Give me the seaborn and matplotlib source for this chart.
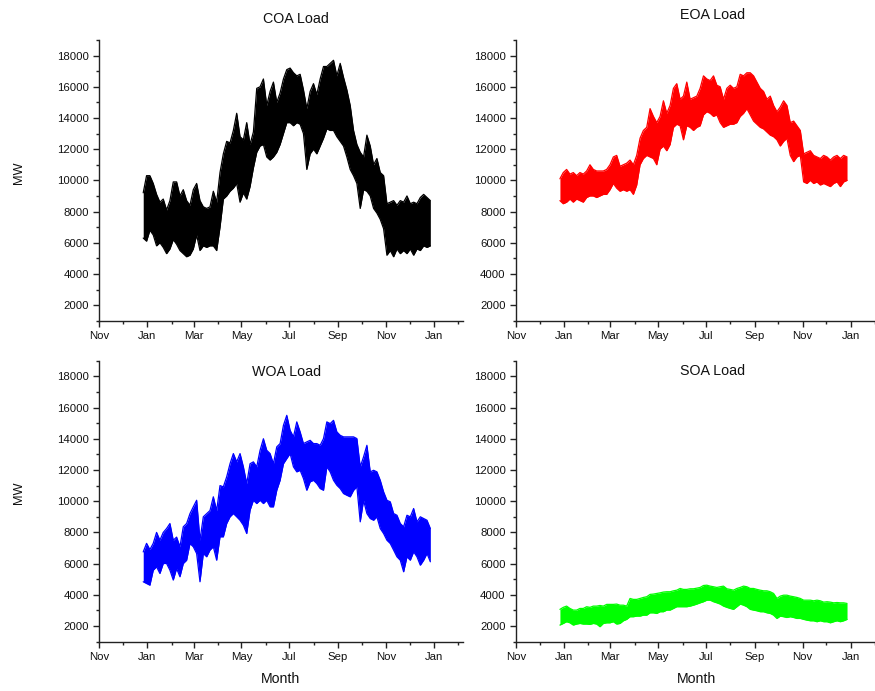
import matplotlib
matplotlib.use("Agg")
import matplotlib.pyplot as plt
import matplotlib.dates as mdates
from matplotlib.ticker import MultipleLocator
import pandas as pd
import seaborn as sns

# Sampling instants of the daily load envelope (about every 4.25 days)
sample_times = pd.date_range("2018-12-26 22:00", periods=87, freq="102h")

# Daily peak / trough of the hourly load, MW
coa_high = [9200, 10300, 10300, 9800, 9100, 8600, 8800, 8100, 8700, 9900,
            9900, 9000, 9400, 8700, 8400, 9400, 9800, 8700, 8300, 8200,
            8300, 9300, 8600, 10500, 11700, 12500, 12400, 13200, 14300, 12800,
            12600, 13700, 12300, 13100, 15900, 16000, 16500, 14800, 15700, 16300,
            15000, 15600, 16500, 17100, 17200, 16900, 16700, 16800, 15800, 14600,
            15700, 16200, 15500, 16500, 17300, 17300, 17500, 17700, 16700, 17500,
            16600, 15800, 14800, 13200, 12300, 11800, 11500, 12900, 12200, 11000,
            11400, 10500, 10300, 8500, 8600, 8700, 8400, 8700, 8600, 9000,
            8500, 8600, 8500, 8900, 9100, 8900, 8700]
coa_low = [6300, 6100, 6800, 6500, 5800, 6000, 5700, 5300, 5600, 6200,
           5900, 5500, 5300, 5100, 5200, 5600, 6500, 5500, 5800, 5700,
           5800, 5800, 5500, 7000, 8800, 9000, 9300, 9500, 9800, 8600,
           9200, 8800, 9600, 10800, 11800, 12200, 12300, 11500, 11300, 11500,
           11800, 12300, 13000, 13700, 13700, 13500, 13700, 13600, 13000, 10700,
           11700, 12000, 11700, 12200, 12700, 13300, 13200, 13200, 12800, 12500,
           12200, 11500, 10700, 10300, 9800, 8200, 9400, 9300, 9000, 8200,
           7900, 7500, 6900, 5200, 5500, 5100, 5600, 5300, 5500, 5300,
           5600, 5200, 5600, 5500, 5800, 5700, 5800]

eoa_high = [10100, 10500, 10700, 10400, 10500, 10300, 10500, 10400, 10600, 11000,
            10700, 10600, 10600, 10600, 10700, 11000, 11500, 11600, 10900, 11000,
            11100, 11300, 11000, 11600, 12700, 13200, 13400, 14600, 14100, 13700,
            14100, 15100, 14300, 14800, 15900, 16200, 15200, 15400, 16300, 15200,
            15300, 15400, 15900, 16700,
            16500, 16400, 16700, 16100, 16000, 15200, 15900, 16100, 15900, 16000,
            16800, 16700, 16900, 16900, 16700, 16300, 15900, 15700, 15200, 15400,
            14800, 14400, 14700, 15100, 14800, 13700, 13800, 13500, 13200, 11700,
            11800, 11900, 11600, 11500, 11400, 11600, 11500, 11300, 11500, 11600,
            11400, 11600, 11500]
eoa_low = [8700, 8500, 8600, 8800, 8600, 8800, 8700, 8600, 8900, 9000,
           9000, 8900, 9000, 9100, 9100, 9400, 9800, 9500, 9300, 9400,
           9300, 9400, 9100, 9700, 11000, 11400, 11600, 11500, 11400, 11000,
           12000, 12200, 11900, 12300, 13400, 13600, 13500, 12600, 13500, 13400,
           13200, 13400, 13500, 14200,
           14400, 14300, 14100, 14200, 13700, 13400, 13500, 13600, 13600, 13700,
           14100, 14300, 14600, 14200, 13800, 13600, 13400, 13300, 13100, 12900,
           12800, 12600, 12200, 12500, 12700, 11600, 11200, 11500, 11600, 9900,
           9800, 10000, 9800, 9900, 9700, 9800, 9700, 9600, 9800, 9900,
           9600, 9900, 10000]

woa_high = [6750, 7300, 6900, 7300, 8000, 7500, 8000, 8250, 8570, 7500,
            7700, 7080, 8360, 8570, 9200, 9640, 10060, 7500, 9000, 9200,
            9400, 10280, 9400, 11000, 10920, 11560, 12400, 13050, 12520, 13050,
            12200, 11130, 12400, 12520, 12200, 13260, 14000, 13260, 13050, 12400,
            13480, 13690, 14860, 15500,
            14540, 14120, 15080, 14440, 13690, 13800, 13900, 13690, 13690, 13580,
            14010, 15080, 14970, 15180, 14440, 14220, 14120, 14120, 14120, 14120,
            14010, 12200, 12840, 13580, 11880, 11980, 11880, 11340, 10600, 10060,
            9960, 9210, 9100, 8570, 8360, 9100, 9000, 9530, 8680, 9000,
            8890, 8780, 8250]
woa_low = [4840, 4730, 4620, 5580, 5800, 5370, 6010, 6010, 5580, 4950,
           5690, 5160, 6010, 6220, 7290, 7080, 6650, 4840, 6650, 6440,
           6870, 7080, 6220, 7720, 7720, 8570, 9000, 9210, 9000, 8780,
           8460, 7930, 9420, 10060, 9850, 10060, 9850, 10060, 9640, 9640,
           10700, 11340, 12400, 12730,
           13050, 12200, 11880, 11980, 11450, 10700, 11240, 11340, 11130, 10810,
           10700, 12200, 11880, 11340, 11020, 10810, 10490, 10380, 10280, 10700,
           10920, 8680, 10060, 9210, 8890, 8780, 9000, 8250, 7930, 7500,
           7290, 6870, 6440, 6220, 5480, 6440, 6220, 6760, 6440, 5900,
           6220, 6650, 6120]

soa_high = [3070, 3200, 3280, 3130, 3024, 3024, 3130, 3130, 3240, 3200,
            3280, 3280, 3320, 3280, 3390, 3390, 3390, 3410, 3340, 3340,
            3280, 3770, 3710, 3710, 3770, 3835, 3880, 4030, 4050, 4090,
            4130, 4180, 4200, 4200, 4260, 4300, 4410, 4350, 4350, 4390,
            4390, 4430, 4475, 4600, 4620, 4560, 4520, 4475, 4520, 4560,
            4390, 4350, 4300, 4410, 4475, 4560, 4520, 4410, 4410, 4350,
            4300, 4260, 4260, 4200, 4090, 3770, 3920, 3980, 3980, 3920,
            3880, 3835, 3770, 3660, 3660, 3660, 3620, 3660, 3620, 3535,
            3560, 3535, 3490, 3510, 3490, 3490, 3450]
soa_low = [2065, 2170, 2280, 2210, 2065, 2130, 2170, 2130, 2130, 2110,
           2170, 2130, 1960, 2170, 2210, 2210, 2280, 2130, 2170, 2340,
           2430, 2600, 2600, 2640, 2640, 2700, 2700, 2850, 2850, 2810,
           2920, 2920, 3024, 3024, 3130, 3240, 3240, 3240, 3240, 3280,
           3340, 3410, 3490, 3560, 3660, 3660, 3560, 3490, 3410, 3280,
           3200, 3130, 3070, 3240, 3410, 3340, 3240, 3070, 3024, 2980,
           2920, 2920, 2850, 2810, 2700, 2490, 2640, 2600, 2550, 2600,
           2550, 2490, 2490, 2430, 2380, 2340, 2340, 2280, 2340, 2280,
           2280, 2210, 2280, 2340, 2280, 2340, 2430]

regions = ["COA", "EOA", "WOA", "SOA"]
region_colors = ["#000000", "#ff0000", "#0000ff", "#00ff00"]
region_high = [coa_high, eoa_high, woa_high, soa_high]
region_low = [coa_low, eoa_low, woa_low, soa_low]
y_ticks = [2000, 4000, 6000, 8000, 10000, 12000, 14000, 16000, 18000]

sns.set_style("ticks")
plt.rcParams["font.family"] = ["Liberation Sans", "DejaVu Sans"]

W, H = 875, 691
fig = plt.figure(figsize=(W / 100, H / 100), dpi=100)


def add_axes_px(left, top, right, bottom):
    return fig.add_axes([left / W, 1 - bottom / H, (right - left) / W, (bottom - top) / H])


boxes = [(99.3, 40, 463, 320.7), (516, 40, 879.7, 320.7),
         (99.3, 360.7, 463, 641.7), (516, 360.7, 879.7, 641.7)]
title_pos = [(296, 19), (713, 15), (287, 372.5), (712.5, 371)]

ink = "#222222"
for k, name in enumerate(regions):
    ax = add_axes_px(*boxes[k])
    color = region_colors[k]
    df = pd.DataFrame({"time": list(sample_times) * 2,
                       "load": region_high[k] + region_low[k],
                       "edge": ["high"] * len(sample_times) + ["low"] * len(sample_times)})
    ax.fill_between(sample_times, region_low[k], region_high[k], color=color, lw=0)
    sns.lineplot(data=df, x="time", y="load", units="edge", estimator=None,
                 color=color, lw=0.9, ax=ax, legend=False)

    ax.set_xlim(pd.Timestamp("2018-11-01"), pd.Timestamp("2020-02-07"))
    ax.set_ylim(1000, 19000)
    ax.set_yticks(y_ticks)
    ax.yaxis.set_minor_locator(MultipleLocator(1000))
    ax.xaxis.set_major_locator(mdates.MonthLocator(bymonth=[1, 3, 5, 7, 9, 11]))
    ax.xaxis.set_minor_locator(mdates.MonthLocator())
    ax.xaxis.set_major_formatter(mdates.DateFormatter("%b"))
    ax.set_xlabel("")
    ax.set_ylabel("")

    for side in ("top", "right"):
        ax.spines[side].set_visible(False)
    for side in ("left", "bottom"):
        ax.spines[side].set_color(ink)
        ax.spines[side].set_linewidth(1.0)
    ax.tick_params(which="major", direction="out", length=4.5, width=1.0,
                   color=ink, labelsize=8.2, labelcolor="#111111", pad=3)
    ax.tick_params(which="minor", direction="out", length=2.5, width=1.0, color=ink)

    tx, ty = title_pos[k]
    fig.text(tx / W, 1 - ty / H, f"{name} Load", ha="center", va="center",
             fontsize=10.3, color="#111111")

for yc in (173, 493):
    fig.text(19 / W, 1 - yc / H, "MW", rotation=90, ha="center", va="center",
             fontsize=9.2, color="#111111")
for xc in (281, 697):
    fig.text(xc / W, 1 - 679 / H, "Month", ha="center", va="center",
             fontsize=10.2, color="#111111")

fig.savefig("out.png", dpi=100, facecolor="white")
